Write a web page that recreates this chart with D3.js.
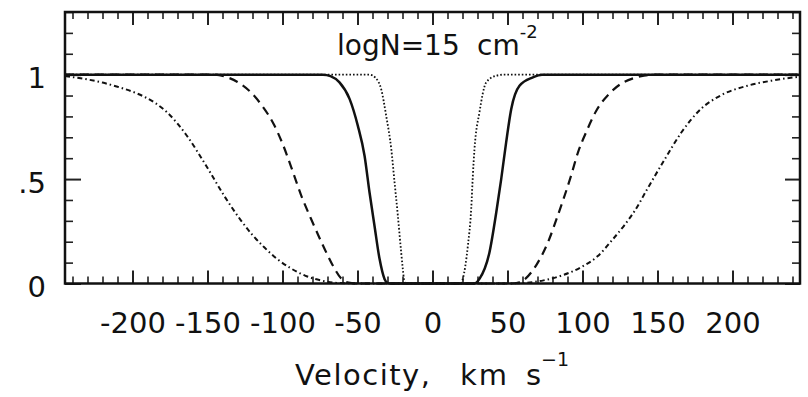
<!DOCTYPE html>
<html>
<head>
<meta charset="utf-8">
<script src="https://cdn.jsdelivr.net/npm/d3@7"></script>
<style>
  body { margin: 0; background: #fff; }
  text { font-family: "DejaVu Sans", sans-serif; fill: #111; }
</style>
</head>
<body>
<div id="my_dataviz"></div>
<script>

// Profiles: [velocity km/s, normalised flux]
var profileWide = [[-245, 0.993], [-230, 0.977], [-220, 0.962], [-210, 0.942], [-197, 0.91], [-185, 0.865],
    [-177, 0.82], [-164, 0.71], [-151, 0.565], [-138, 0.41], [-128, 0.305], [-120, 0.232], [-112, 0.172],
    [-104, 0.12], [-95, 0.075], [-85, 0.038], [-74, 0.014], [-62, 0.002], [-48, 0], [0, 0], [48, 0],
    [62, 0.003], [74, 0.015], [87, 0.04], [99, 0.078], [110, 0.13], [120, 0.21], [128, 0.28],
    [135, 0.35], [143, 0.45], [155, 0.597], [166, 0.724], [179, 0.836], [192, 0.9], [210, 0.947],
    [226, 0.971], [241, 0.987], [245, 0.99]]

var profileDashed = [[-245, 1], [-146, 1], [-138, 0.99], [-130, 0.965], [-122, 0.922], [-114, 0.855],
    [-106, 0.765], [-100, 0.67], [-93, 0.533], [-87.5, 0.421], [-81, 0.31], [-73, 0.182], [-66, 0.08],
    [-61, 0.025], [-56, 0.004], [-50, 0], [0, 0], [52, 0], [58, 0.006], [69, 0.086], [77, 0.198],
    [83.5, 0.325], [92.4, 0.517], [97, 0.628], [102.4, 0.724], [109, 0.825], [118, 0.91], [127, 0.962],
    [134, 0.983], [141, 0.995], [148, 1], [245, 1]]

var profileSolid = [[-245, 1], [-73, 1], [-68, 0.993], [-62, 0.963], [-55.3, 0.884], [-49.8, 0.756],
    [-45.3, 0.612], [-42, 0.437], [-38.7, 0.278], [-35.3, 0.118], [-32, 0.022], [-30, 0.003], [-28, 0],
    [0, 0], [28, 0], [31.3, 0.022], [38, 0.15], [42.5, 0.34], [45.8, 0.5], [49.1, 0.676], [52.5, 0.836],
    [58, 0.947], [66.9, 0.987], [73, 1], [245, 1]]

var profileDotted = [[-245, 1], [-42, 1], [-38, 0.985], [-34.2, 0.93], [-30.9, 0.804], [-27.5, 0.644],
    [-25.3, 0.485], [-23.1, 0.325], [-20.9, 0.15], [-19.8, 0.07], [-19, 0.02], [-18, 0], [0, 0], [19, 0],
    [20.2, 0.022], [23.6, 0.182], [25.8, 0.357], [26.9, 0.517], [28, 0.644], [31.3, 0.82], [35.8, 0.963],
    [42.5, 0.995], [48, 1], [245, 1]]

var xMajorTicks = [-200, -150, -100, -50, 0, 50, 100, 150, 200]
var yMajorTicks = [0, 0.5, 1]
var yTickLabels = ["0", ".5", "1"]

// set the dimensions and margins of the graph
var margin = { top: 12, right: 8, bottom: 113.5, left: 65 },
    width = 808 - margin.left - margin.right,
    height = 397 - margin.top - margin.bottom;

var svg = d3.select("#my_dataviz")
    .append("svg")
    .attr("width", width + margin.left + margin.right)
    .attr("height", height + margin.top + margin.bottom)
    .append("g")
    .attr("transform", "translate(" + margin.left + "," + margin.top + ")");

var x = d3.scaleLinear().domain([-245, 245]).range([0, width]);
var y = d3.scaleLinear().domain([0, 1.3]).range([height, 0]);

var xMinor = d3.range(-240, 241, 10).filter(function (d) { return d % 50 != 0 })
var yMinor = d3.range(0, 1.31, 0.1).filter(function (d) { return Math.abs(d * 2 - Math.round(d * 2)) > 0.01 })

// minor ticks on all four sides
svg.append("g").attr("class", "minor")
    .attr("transform", "translate(0," + height + ")")
    .call(d3.axisBottom(x).tickValues(xMinor).tickSize(-7).tickFormat(""))
svg.append("g").attr("class", "minor")
    .call(d3.axisTop(x).tickValues(xMinor).tickSize(-7).tickFormat(""))
svg.append("g").attr("class", "minor")
    .call(d3.axisLeft(y).tickValues(yMinor).tickSize(-8).tickFormat(""))
svg.append("g").attr("class", "minor")
    .attr("transform", "translate(" + width + ",0)")
    .call(d3.axisRight(y).tickValues(yMinor).tickSize(-8).tickFormat(""))

// major ticks with labels (plain hyphen for the minus, like the original)
svg.append("g").attr("class", "major")
    .attr("transform", "translate(0," + height + ")")
    .call(d3.axisBottom(x).tickValues(xMajorTicks).tickSize(-13).tickPadding(29)
        .tickFormat(function (d) { return String(d) }))
svg.append("g").attr("class", "major")
    .call(d3.axisTop(x).tickValues(xMajorTicks).tickSize(-13).tickFormat(""))
svg.append("g").attr("class", "major ylab")
    .call(d3.axisLeft(y).tickValues(yMajorTicks).tickSize(-16).tickPadding(19)
        .tickFormat(function (d, i) { return yTickLabels[i] }))
svg.append("g").attr("class", "major")
    .attr("transform", "translate(" + width + ",0)")
    .call(d3.axisRight(y).tickValues(yMajorTicks).tickSize(-15).tickFormat(""))

svg.selectAll(".domain").remove()
svg.selectAll(".minor line").attr("stroke", "#222").attr("stroke-width", 1.6)
svg.selectAll(".major line").attr("stroke", "#222").attr("stroke-width", 2)
svg.selectAll(".tick text")
    .attr("fill", "#111")
    .style("font-family", "'DejaVu Sans', sans-serif")
    .style("font-size", "29px")
svg.selectAll(".ylab text").attr("dy", "0.45em")

// the four profiles
var line = d3.line()
    .x(function (d) { return x(d[0]) })
    .y(function (d) { return y(d[1]) })
    .curve(d3.curveMonotoneX)

var profiles = [
    { data: profileWide, dash: "5,3,1.5,3", w: 2 },
    { data: profileDashed, dash: "9,6", w: 2.2 },
    { data: profileDotted, dash: "1.6,2", w: 1.8 },
    { data: profileSolid, dash: null, w: 2.5 }
]

svg.selectAll(".profile")
    .data(profiles)
    .enter()
    .append("path")
    .attr("class", "profile")
    .attr("d", function (d) { return line(d.data) })
    .attr("fill", "none")
    .attr("stroke", "#111")
    .attr("stroke-width", function (d) { return d.w })
    .attr("stroke-dasharray", function (d) { return d.dash })

// frame
svg.append("rect")
    .attr("x", 0)
    .attr("y", 0)
    .attr("width", width)
    .attr("height", height)
    .attr("fill", "none")
    .attr("stroke", "#111")
    .attr("stroke-width", 2.5)

// column density label
var title = svg.append("text")
    .attr("y", 55 - margin.top)
    .style("font-size", "28px")
title.append("tspan").attr("x", 337 - margin.left).text("logN=15")
title.append("tspan").attr("x", 477 - margin.left).text("cm")
title.append("tspan").attr("dy", -17).style("font-size", "18px").text("-2")

// X axis label
var xlabel = svg.append("text")
    .attr("y", 385 - margin.top)
    .style("font-size", "29px")
xlabel.append("tspan").attr("x", 295 - margin.left).style("letter-spacing", "1.5px").text("Velocity,")
xlabel.append("tspan").attr("x", 460 - margin.left).style("letter-spacing", "2px").text("km")
xlabel.append("tspan").attr("x", 526 - margin.left).text("s")
xlabel.append("tspan").attr("dy", -19).style("font-size", "19px").text("\u22121")

</script>
</body>
</html>
